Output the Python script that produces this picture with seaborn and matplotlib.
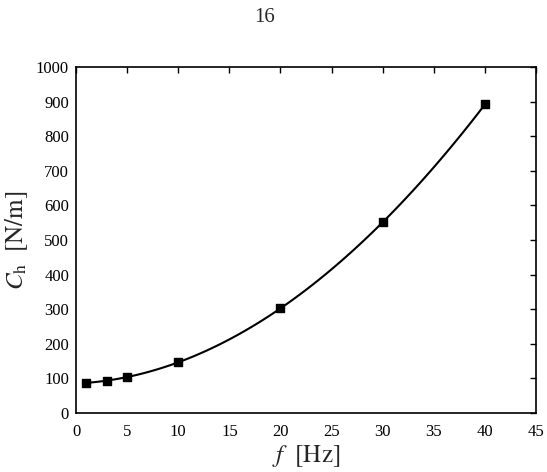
import matplotlib
matplotlib.use('Agg')
import matplotlib.pyplot as plt
import seaborn as sns
import pandas as pd

# 数据
freq = [1, 3, 5, 10, 20, 30, 40]
stiffness = [88, 93, 103, 147, 303, 551, 892]

df = pd.DataFrame({'f': freq, 'Ch': stiffness})

sns.set_theme(style='white')
plt.rcParams['font.family'] = ['Liberation Serif', 'DejaVu Serif']
plt.rcParams['mathtext.fontset'] = 'stix'

fig = plt.figure(figsize=(5.47, 4.72), dpi=100)
ax = fig.add_axes([0.139, 0.125, 0.841, 0.733])

sns.regplot(data=df, x='f', y='Ch', order=3, ci=None, ax=ax,
            marker='s', color='black',
            scatter_kws={'s': 28, 'alpha': 1, 'zorder': 3},
            line_kws={'linewidth': 1.5})

ax.set_xlim(0, 45)
ax.set_ylim(0, 1000)
ax.set_xticks(range(0, 46, 5))
ax.set_yticks(range(0, 1001, 100))
ax.tick_params(direction='in', top=True, right=True, labelsize=12,
               length=4, width=1, colors='black')
ax.tick_params(axis='x', pad=8)
ax.tick_params(axis='y', pad=5)
for s in ax.spines.values():
    s.set_color('black')
    s.set_linewidth(1.2)

ax.set_xlabel(r'$f\ \ \mathrm{[Hz]}$', fontsize=18, labelpad=2)
ax.set_ylabel(r'$C_{\mathrm{h}}\ \ \mathrm{[N/m]}$', fontsize=18, labelpad=4)

fig.text(265 / 547, 1 - 18 / 472, '16', ha='center', va='center', fontsize=15)

fig.savefig('out.png', dpi=100, facecolor='white')
